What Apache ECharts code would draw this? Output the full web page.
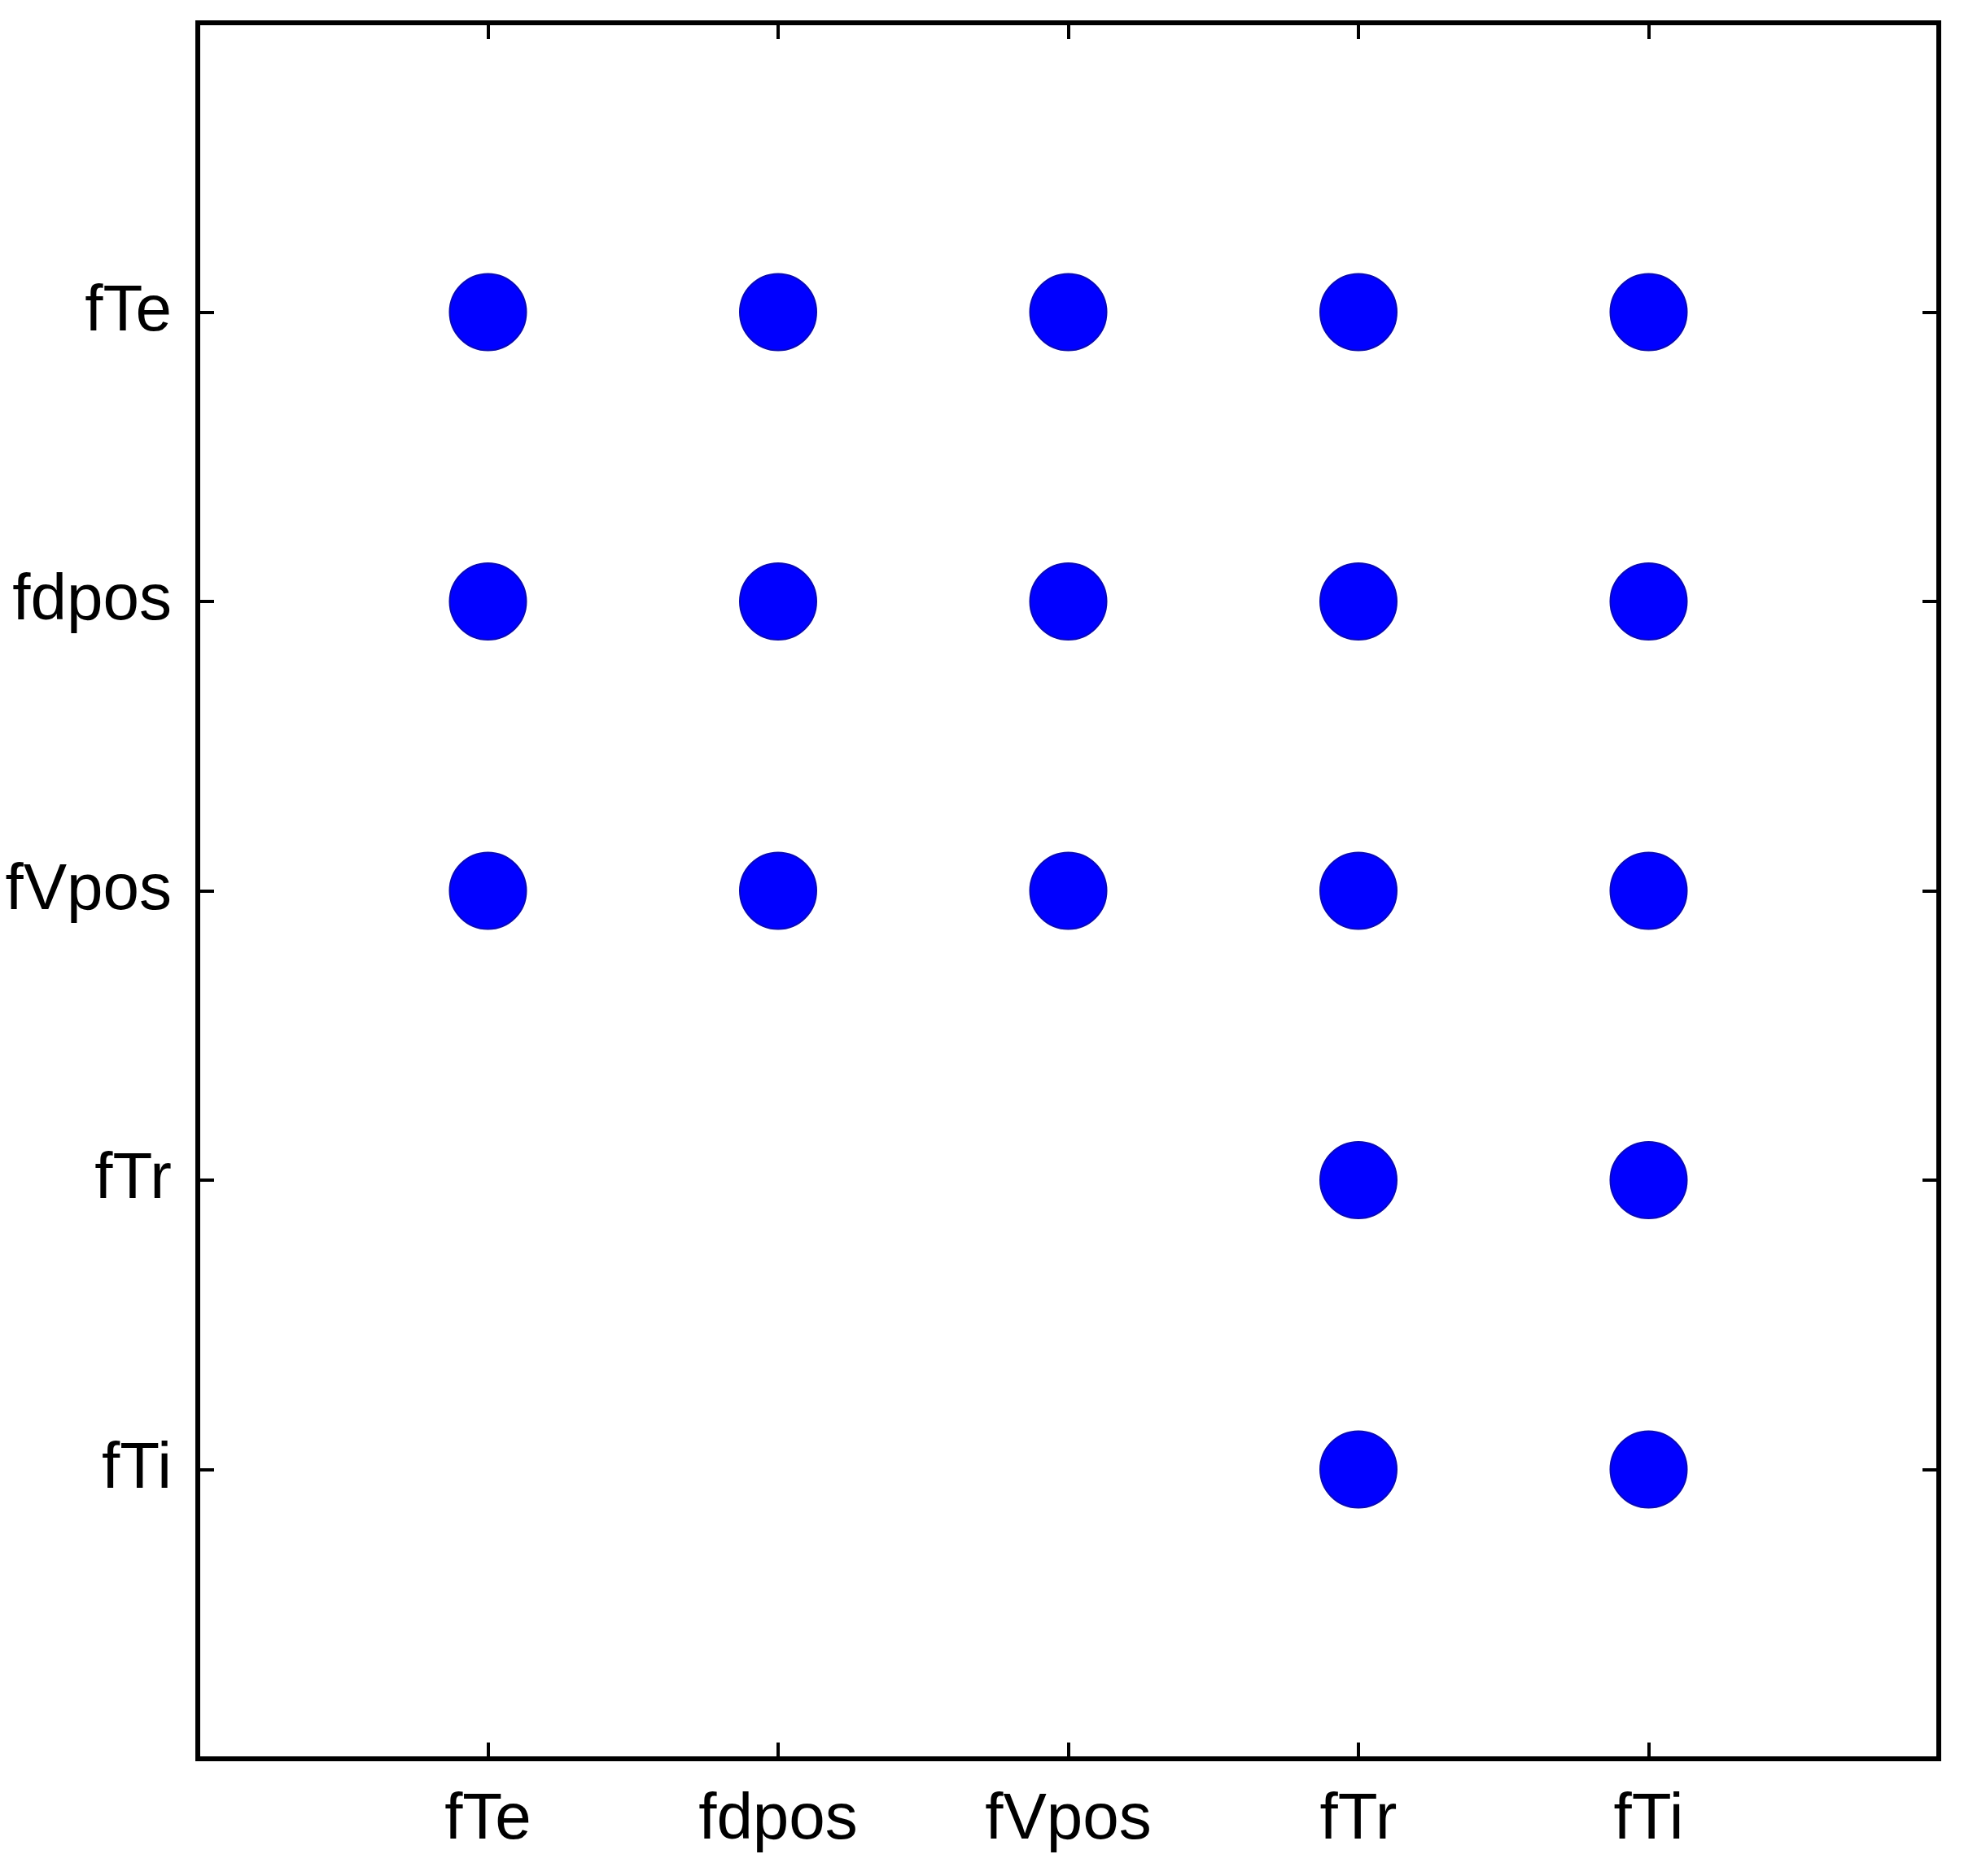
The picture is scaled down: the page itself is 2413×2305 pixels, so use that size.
<!DOCTYPE html>
<html>
<head>
<meta charset="utf-8">
<script src="https://cdn.jsdelivr.net/npm/echarts@6/dist/echarts.min.js"></script>
<style>
  html, body { margin: 0; padding: 0; background: #fff; }
  #main { width: 2413px; height: 2305px; }
</style>
</head>
<body>
<div id="main"></div>
<script>
// 横轴变量（从左到右）
var xLabels = ["fTe", "fdpos", "fVpos", "fTr", "fTi"];
// 纵轴变量（从上到下）
var yLabels = ["fTe", "fdpos", "fVpos", "fTr", "fTi"];
// 每一行：该变量与横轴各变量是否相关（1 = 画点）
var rowFTe   = [1, 1, 1, 1, 1];
var rowFdpos = [1, 1, 1, 1, 1];
var rowFVpos = [1, 1, 1, 1, 1];
var rowFTr   = [0, 0, 0, 1, 1];
var rowFTi   = [0, 0, 0, 1, 1];
var rows = [rowFTe, rowFdpos, rowFVpos, rowFTr, rowFTi];

// 拼成散点数据：x 从 1 开始，y 自上而下 5..1
var points = [];
rows.forEach(function (row, r) {
  row.forEach(function (v, c) {
    if (v) points.push([c + 1, yLabels.length - r]);
  });
});

var fontName = "'Liberation Sans Narrow', 'Liberation Sans', Arial, sans-serif";

function xName(v) { return xLabels[v - 1] || ""; }
function yName(v) { return yLabels[yLabels.length - v] || ""; }

// 刻度朝里，轴线不跟着 0 走（否则上/右轴会跑到下/左）
function tick() {
  return { show: true, inside: true, length: 20, lineStyle: { color: "#000", width: 4 } };
}
function noLine() {
  return { show: false, onZero: false };
}

var chart = echarts.init(document.getElementById("main"));
var option = {
  backgroundColor: "#fff",
  animation: false,
  grid: {
    left: 243, top: 28, right: 31, bottom: 144,
    show: true, borderColor: "#000", borderWidth: 6, backgroundColor: "#fff"
  },
  xAxis: [
    {
      type: "value", min: 0, max: 6, interval: 1, position: "bottom",
      axisLine: noLine(), axisTick: tick(), splitLine: { show: false },
      axisLabel: { formatter: xName, color: "#000", fontSize: 80, fontFamily: fontName, margin: 36 }
    },
    {
      type: "value", min: 0, max: 6, interval: 1, position: "top",
      axisLine: noLine(), axisTick: tick(), splitLine: { show: false },
      axisLabel: { show: false }
    }
  ],
  yAxis: [
    {
      type: "value", min: 0, max: 6, interval: 1, position: "left",
      axisLine: noLine(), axisTick: tick(), splitLine: { show: false },
      axisLabel: { formatter: yName, color: "#000", fontSize: 80, fontFamily: fontName, margin: 32 }
    },
    {
      type: "value", min: 0, max: 6, interval: 1, position: "right",
      axisLine: noLine(), axisTick: tick(), splitLine: { show: false },
      axisLabel: { show: false }
    }
  ],
  series: [
    {
      type: "scatter",
      data: points,
      symbol: "circle",
      symbolSize: 94,
      itemStyle: { color: "#0000ff", borderColor: "#0a0ab4", borderWidth: 2, opacity: 1 }
    }
  ]
};
chart.setOption(option);
</script>
</body>
</html>
